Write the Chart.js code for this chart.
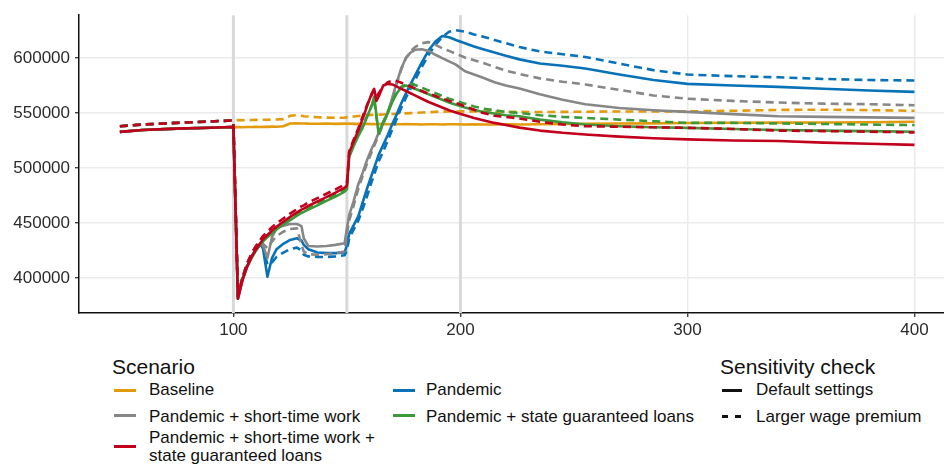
<!DOCTYPE html>
<html>
<head>
<meta charset="utf-8">
<script src="https://cdn.jsdelivr.net/npm/chart.js@4.4.0/dist/chart.umd.min.js"></script>
<style>
body { margin: 0; background: #fff; font-family: "Liberation Sans", Arial, sans-serif; }
#wrap { position: relative; width: 944px; height: 469px; overflow: hidden; }
#chart { position: absolute; left: 0; top: 0; }
.t { position: absolute; font-size: 17px; line-height: 17px; color: #111; white-space: nowrap; }
.h { position: absolute; font-size: 21px; line-height: 21px; color: #111; white-space: nowrap; }
.k { position: absolute; height: 3px; }
</style>
</head>
<body>
<div id="wrap">
  <canvas id="chart" width="944" height="340"></canvas>
</div>
<script>
// periods (x axis)
const periods = [
  50, 60, 75, 90, 99,
  100, 102, 104, 106, 108, 110, 112, 113, 115, 117,
  119, 122, 125, 128, 130, 131, 133, 137, 141, 145,
  149, 150, 151, 153, 155, 157, 159, 161, 162, 163,
  164, 166, 168, 170, 172, 174, 176, 178, 180, 183,
  186, 189, 192, 195, 198, 202, 206, 210, 215, 220,
  226, 235, 245, 255, 270, 285, 300, 320, 340, 360, 380, 400
];

const xTicks = [100, 200, 300, 400];
const yTicks = [400000, 450000, 500000, 550000, 600000];
const shockPeriods = [100, 150, 200];

// Baseline
const baselineDefault = [
  532800, 534500, 535800, 536600, 537200,
  537000, 537200, 537100, 537300, 537200, 537400, 537300, 537500, 537400, 537600,
  537500, 538000, 540500, 540600, 540400, 540500, 540300, 540200, 540400, 540100,
  540300, 540200, 540300, 540100, 540200, 540000, 540100, 539900, 540000, 539800,
  540000, 539900, 539800, 539900, 539700, 539800, 539900, 539700, 539800, 539600,
  539700, 539800, 539600, 539700, 539800, 539600, 539700, 539500, 539600, 539700,
  539600, 539800, 540000, 540200, 540400, 540600, 540900, 541100, 541200, 541400, 541600, 542000
];
const baselineWage = [
  538000, 539500, 541000, 542300, 543200,
  543000, 543500, 543400, 543700, 543600, 543800, 543700, 543900, 543800, 544000,
  544100, 544400, 547500, 548000, 547500, 547000, 546800, 546200, 545800, 545600,
  545800, 546200, 546400, 546800, 547200, 547600, 548000, 548300, 548400, 548500,
  548500, 548700, 548900, 549100, 549300, 549500, 549700, 549900, 550100, 550400,
  550700, 551000, 551200, 551300, 551400, 551500, 551500, 551400, 551300, 551200,
  551000, 550900, 551000, 551200, 551400, 551400, 551500, 552000, 552800, 553000, 552600, 552000
];

// Pandemic
const pandemicDefault = [
  532800, 534500, 535800, 536600, 537200,
  537000, 381000, 398000, 410000, 419000, 426000, 430000, 427000, 401000, 418000,
  426000, 431000, 434500, 436000, 434000, 430000, 426000, 423000, 422500, 422500,
  423000, 430000, 440000, 448000, 456000, 469000, 482000, 494000, 500000, 506000,
  512000, 521000, 530000, 540000, 549000, 559000, 568000, 576000, 584000, 596000,
  607000, 615000, 620000, 619000, 616500, 613500, 610500, 608000, 605000, 602000,
  598800, 595000, 593000, 590500, 585000, 580000, 576500, 575000, 573800, 572000, 570500, 569200
];
const pandemicWage = [
  538000, 539500, 541000, 542300, 543200,
  543000, 383000, 400000, 413000, 422000, 429000, 432000, 428000, 412000, 414000,
  419000, 423000, 426000, 427500, 425000, 421000, 419500, 419000, 419000, 419500,
  420500, 425000, 436000, 444000, 452000, 463000, 475000, 488000, 494000, 500000,
  506000, 515000, 525000, 535000, 545000, 555000, 564000, 572000, 580000, 592000,
  603000, 612000, 619000, 624000, 625400, 624000, 621500, 619500, 616500, 613500,
  610000, 606000, 603500, 601000, 595000, 589000, 585000, 583500, 582500, 581000, 580000, 579600
];

// Pandemic + short-time work
const stwDefault = [
  532800, 534500, 535800, 536600, 537200,
  537000, 381000, 398000, 410000, 419000, 426000, 431000, 430000, 418000, 437000,
  445000, 447500, 449000, 449000, 447000, 436000, 429000, 428500, 429000, 430000,
  431500, 445000, 457000, 470000, 485000, 496000, 508000, 518000, 522000, 527000,
  532000, 541000, 550000, 564000, 578000, 591000, 600000, 605000, 607500, 608000,
  606500, 603000, 600000, 597000, 594000, 588000, 585000, 582000, 578000, 575000,
  572200, 567000, 562000, 558000, 554500, 552500, 551000, 549000, 547000, 546500, 546000, 545600
];
const stwWage = [
  538000, 539500, 541000, 542300, 543200,
  543000, 383000, 400000, 413000, 422000, 429000, 433000, 431000, 427000, 433000,
  438000, 442000, 444500, 445000, 430000, 424000, 421500, 421000, 421500, 422500,
  424000, 440000, 452000, 466000, 481000, 493000, 505000, 515000, 520000, 525000,
  530000, 540000, 550000, 563000, 577000, 590000, 600000, 606000, 610000, 613500,
  614500, 612000, 609000, 606500, 604000, 600500, 598000, 595500, 592000, 588500,
  585500, 581500, 578500, 576000, 571000, 566000, 563000, 561000, 559500, 558500, 558000, 557000
];

// Pandemic + state guaranteed loans
const loansDefault = [
  532800, 534500, 535800, 536600, 537200,
  537000, 383000, 399000, 410000, 418000, 425000, 430500, 433000, 437000, 440500,
  444000, 448500, 452500, 456500, 459000, 460000, 462000, 466000, 470000, 474000,
  478500, 480500, 510000, 520000, 529000, 537000, 547000, 557000, 565000, 548000,
  531000, 541000, 550000, 560000, 568000, 573500, 575000, 573500, 572000, 569500,
  567000, 564500, 562000, 559500, 557500, 555000, 553000, 551000, 549500, 548000,
  547000, 544000, 541500, 539500, 538000, 537000, 536500, 535500, 534500, 534000, 533500, 533000
];
const loansWage = [
  538000, 539500, 541000, 542300, 543200,
  543000, 384000, 400500, 411500, 419500, 426500, 432000, 434500, 438500, 442000,
  445500, 450000, 454000, 458000, 460500, 461500, 463500, 467500, 471500, 475500,
  480000, 482000, 511000, 521000, 530000, 538000, 548000, 557000, 563000, 546000,
  533000, 542000, 551000, 561000, 569000, 574000, 576000, 576600, 575500, 573000,
  570500, 568000, 565500, 563000, 561000, 558500, 556000, 554000, 552500, 551000,
  550000, 548000, 546500, 545500, 544000, 542500, 541000, 541000, 540500, 540000, 539500, 539000
];

// Pandemic + short-time work + state guaranteed loans
const stwLoansDefault = [
  532800, 534500, 535800, 536600, 537200,
  537000, 381000, 398000, 410000, 419000, 426000, 432000, 435000, 439000, 443000,
  446500, 451000, 455500, 459500, 462000, 463000, 465500, 469500, 473500, 477500,
  482000, 484000, 514000, 524000, 534000, 545000, 557000, 568000, 572000, 561000,
  565000, 575000, 576500, 576000, 574000, 572000, 570000, 568000, 566000, 563000,
  560000, 557500, 555000, 552500, 550500, 548000, 545500, 543500, 541000, 539000,
  536700, 534000, 532000, 530500, 528500, 527000, 526000, 525000, 524500, 523000, 522000, 521000
];
const stwLoansWage = [
  538000, 539500, 541000, 542300, 543200,
  543000, 383000, 400000, 413000, 422000, 429000, 435000, 438000, 442000, 446000,
  449500, 454000, 458500, 462500, 465000, 466000, 468500, 472500, 476500, 480500,
  485000, 486500, 515000, 526000, 536000, 547000, 558000, 567000, 570000, 565000,
  568000, 574000, 578000, 579500, 579000, 577500, 576000, 574000, 572500, 570000,
  567500, 565500, 563000, 561000, 559000, 556000, 553000, 550000, 547500, 546500,
  545000, 542000, 539500, 538000, 537500, 537000, 536500, 535500, 534000, 533500, 533000, 532300
];

const scenarios = [
  { name: 'Pandemic + short-time work + state guaranteed loans', color: '#c2001d', solid: stwLoansDefault, dashed: stwLoansWage },
  { name: 'Pandemic + state guaranteed loans', color: '#3a9a3a', solid: loansDefault, dashed: loansWage },
  { name: 'Pandemic + short-time work', color: '#878787', solid: stwDefault, dashed: stwWage },
  { name: 'Pandemic', color: '#0872b9', solid: pandemicDefault, dashed: pandemicWage },
  { name: 'Baseline', color: '#e39a0c', solid: baselineDefault, dashed: baselineWage }
];

const toPoints = vals => periods.map((p, i) => ({ x: p, y: vals[i] }));

const datasets = [];
scenarios.forEach(s => {
  datasets.push({ label: s.name, data: toPoints(s.solid), borderColor: s.color, borderWidth: 2.6 });
  datasets.push({ label: s.name + ' (wage)', data: toPoints(s.dashed), borderColor: s.color, borderWidth: 2.6, borderDash: [8, 5] });
});

const shockLines = {
  id: 'shockLines',
  beforeDatasetsDraw(chart) {
    const { ctx, chartArea, scales } = chart;
    ctx.save();
    ctx.strokeStyle = '#d9d9d9';
    ctx.lineWidth = 3;
    shockPeriods.forEach(p => {
      const x = scales.x.getPixelForValue(p);
      ctx.beginPath();
      ctx.moveTo(x, chartArea.top);
      ctx.lineTo(x, chartArea.bottom);
      ctx.stroke();
    });
    ctx.restore();
  }
};

const tickFont = { family: 'Liberation Sans', size: 17 };

const chart = new Chart(document.getElementById('chart').getContext('2d'), {
  type: 'line',
  data: { datasets: datasets },
  options: {
    responsive: false,
    animation: false,
    devicePixelRatio: 1,
    layout: { padding: { top: 8, right: 0, left: 0, bottom: 0 } },
    elements: {
      point: { radius: 0 },
      line: { tension: 0, borderJoinStyle: 'round', fill: false }
    },
    plugins: { legend: { display: false }, tooltip: { enabled: false } },
    scales: {
      x: {
        type: 'linear',
        min: 32,
        max: 413,
        afterBuildTicks: s => { s.ticks = xTicks.map(v => ({ value: v })); },
        afterFit: s => { s.height = 27; },
        grid: { color: '#ebebeb', lineWidth: 1.5, tickColor: '#222', tickLength: 4, tickWidth: 1.2 },
        border: { display: true, color: '#111', width: 1.5 },
        ticks: { color: '#2b2b2b', font: tickFont, padding: 3, maxRotation: 0, autoSkip: false }
      },
      y: {
        type: 'linear',
        min: 368000,
        max: 639000,
        afterBuildTicks: s => { s.ticks = yTicks.map(v => ({ value: v })); },
        afterFit: s => { s.width = 79; },
        grid: { color: '#ebebeb', lineWidth: 1.5, tickColor: '#222', tickLength: 4, tickWidth: 1.2 },
        border: { display: true, color: '#111', width: 1.5 },
        ticks: { color: '#2b2b2b', font: tickFont, padding: 5, callback: v => String(v) }
      }
    }
  },
  plugins: [shockLines]
});

// legend (drawn as html below the canvas)
const wrap = document.getElementById('wrap');
function addText(cls, txt, left, top) {
  const d = document.createElement('div');
  d.className = cls;
  d.textContent = txt;
  d.style.left = left + 'px';
  d.style.top = top + 'px';
  wrap.appendChild(d);
}
function addKey(color, left, width, y) {
  const d = document.createElement('div');
  d.className = 'k';
  d.style.background = color;
  d.style.left = left + 'px';
  d.style.width = width + 'px';
  d.style.top = (y - 1.5) + 'px';
  wrap.appendChild(d);
}
const byName = n => scenarios.find(s => s.name === n).color;

addText('h', 'Scenario', 112, 356);
addKey(byName('Baseline'), 114, 22, 390.5);
addText('t', 'Baseline', 149, 381);
addKey(byName('Pandemic + short-time work'), 114, 22, 415.5);
addText('t', 'Pandemic + short-time work', 149, 407.5);
addKey(byName('Pandemic + short-time work + state guaranteed loans'), 114, 22, 446.5);
addText('t', 'Pandemic + short-time work +', 149, 429);
addText('t', 'state guaranteed loans', 149, 447);

addKey(byName('Pandemic'), 393, 22, 390.5);
addText('t', 'Pandemic', 426, 381);
addKey(byName('Pandemic + state guaranteed loans'), 393, 22, 415.5);
addText('t', 'Pandemic + state guaranteed loans', 426, 407.5);

addText('h', 'Sensitivity check', 720, 356);
addKey('#111', 722, 20, 390.5);
addText('t', 'Default settings', 756, 381);
addKey('#111', 722, 6, 416);
addKey('#111', 735, 6, 416);
addText('t', 'Larger wage premium', 756, 408);
</script>
</body>
</html>
